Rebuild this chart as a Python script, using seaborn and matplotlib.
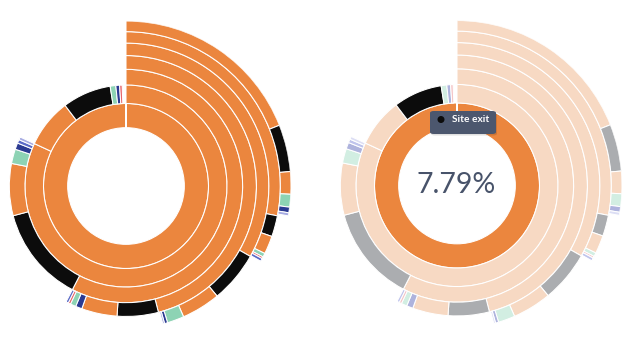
import numpy as np
import matplotlib
matplotlib.use("Agg")
import matplotlib.pyplot as plt
from matplotlib.patches import FancyBboxPatch, Circle
import seaborn as sns

sns.set_theme(style="white")
plt.rcParams['font.family'] = ['Lato', 'DejaVu Sans']

# ---- data: share of sessions (% of full circle) per step of the path ----
step1_pages = ["orange"]
step1_share = [100.0]
step2_pages = ["orange", "orange", "exit", "green", "navy", "red"]
step2_share = [81.9, 7.8, 7.79, 0.9, 0.6, 0.4]
step3_pages = ["orange", "exit", "orange", "green", "navy", "blue", "lavender"]
step3_share = [57.6, 13.3, 7.2, 2.0, 0.9, 0.5, 0.4]
step4_pages = ["orange", "exit", "orange", "navy", "green", "red", "blue"]
step4_share = [46.0, 5.1, 4.4, 0.8, 0.7, 0.3, 0.3]
step5_pages = ["orange", "exit", "orange", "green", "navy", "lavender"]
step5_share = [33.2, 5.8, 4.4, 1.9, 0.35, 0.2]
step6_pages = ["orange", "exit", "orange", "green", "red", "blue"]
step6_share = [28.1, 2.2, 1.9, 0.4, 0.2, 0.3]
step7_pages = ["orange", "exit", "orange", "green", "navy", "lavender"]
step7_share = [19.0, 4.6, 2.2, 1.25, 0.55, 0.3]

steps = [
    (step1_pages, step1_share),
    (step2_pages, step2_share),
    (step3_pages, step3_share),
    (step4_pages, step4_share),
    (step5_pages, step5_share),
    (step6_pages, step6_share),
    (step7_pages, step7_share),
]

highlight_label = "Site exit"
highlight_value = "7.79%"
highlight_path = {(0, 0), (1, 2)}   # (step index, segment index)

full_colors = {
    "orange": "#EB863E", "exit": "#0C0C0C", "green": "#8DD3B4",
    "navy": "#2B3A92", "blue": "#5A6AC6", "lavender": "#A6ABE2", "red": "#E7656A",
}
faded_colors = {
    "orange": "#F7D9C3", "exit": "#ABADB0", "green": "#D2EEE2",
    "navy": "#AEB3DD", "blue": "#BFC4EC", "lavender": "#DCDEF4", "red": "#F4C5C7",
}

W, H = 634, 340
R = 165.0
fig = plt.figure(figsize=(W / 100, H / 100), dpi=100)
fig.patch.set_facecolor("white")


def make_axes(cx, cy):
    ax = fig.add_axes([(cx - R) / W, (H - cy - R) / H, 2 * R / W, 2 * R / H],
                      projection="polar")
    ax.set_theta_zero_location("N")
    ax.set_theta_direction(-1)
    ax.set_ylim(0, np.sqrt(len(steps) + 1))
    ax.axis("off")
    return ax


def draw_sunburst(ax, faded):
    for i, (pages, shares) in enumerate(steps):
        inner = np.sqrt(i + 1)
        outer = np.sqrt(i + 2)
        start = 0.0
        for j, (p, s) in enumerate(zip(pages, shares)):
            if faded and (i, j) not in highlight_path:
                col = faded_colors[p]
            else:
                col = full_colors[p]
            ax.bar(np.deg2rad(start * 3.6), outer - inner,
                   width=np.deg2rad(s * 3.6), bottom=inner, align="edge",
                   color=col, edgecolor="white", linewidth=0.75)
            start += s


ax_left = make_axes(126, 186)
draw_sunburst(ax_left, faded=False)

ax_right = make_axes(457, 185.5)
draw_sunburst(ax_right, faded=True)

# center value
fig.text(456 / W, 1 - 185 / H, highlight_value, ha="center", va="center",
         fontsize=20.5, color="#48536A", fontweight="normal")

# tooltip
bx0, by0, bx1, by1 = 430, 111, 496, 134
shadow = FancyBboxPatch(((bx0 + 1) / W, 1 - (by1 + 1.5) / H), (bx1 - bx0) / W, (by1 - by0) / H,
                        boxstyle="round,pad=0,rounding_size=0.006",
                        transform=fig.transFigure, facecolor="#000000", alpha=0.12,
                        edgecolor="none")
fig.add_artist(shadow)
box = FancyBboxPatch((bx0 / W, 1 - by1 / H), (bx1 - bx0) / W, (by1 - by0) / H,
                     boxstyle="round,pad=0,rounding_size=0.006",
                     transform=fig.transFigure, facecolor="#4C576E", edgecolor="none")
fig.add_artist(box)
dot = Circle((441, H - 119.5), 3.5, transform=None, facecolor="#0C0C0C", edgecolor="none")
fig.add_artist(dot)
fig.text(451.5 / W, 1 - 119.8 / H, highlight_label, ha="left", va="center",
         fontsize=7.3, color="white", fontweight="bold")

fig.savefig("out.png", dpi=100, facecolor="white")
